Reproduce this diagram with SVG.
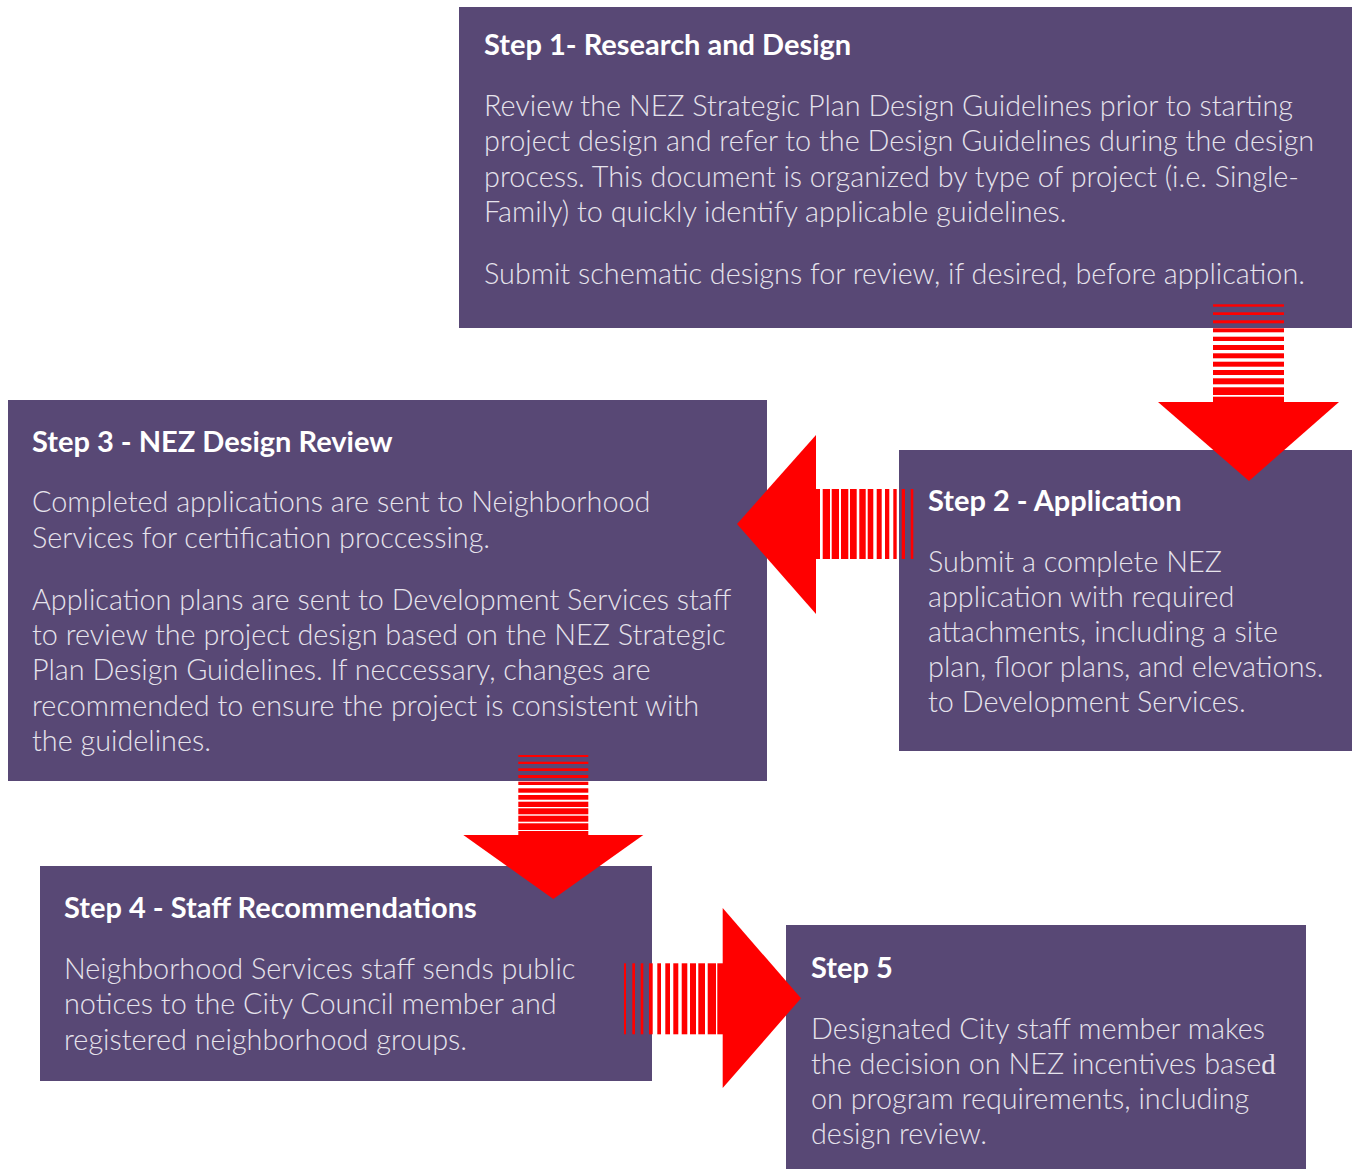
<svg xmlns="http://www.w3.org/2000/svg" width="1354" height="1169" viewBox="0 0 1354 1169">
<style>
.box{fill:#584875}
.h{font-family:Lato,"Liberation Sans",sans-serif;font-weight:700;font-size:29px;fill:#ffffff}
.b{font-family:Lato,"Liberation Sans",sans-serif;font-weight:300;font-size:28.8px;fill:#e6e3ec}
.ar{fill:#ff0000}
</style>
<rect width="1354" height="1169" fill="#ffffff"/>
<g id="step1">
<rect class="box" x="459" y="7" width="893" height="321"/>
<text class="h" x="484" y="55">Step 1- Research and Design</text>
<text class="b" x="484" y="116">Review the NEZ Strategic Plan Design Guidelines prior to starting</text>
<text class="b" x="484" y="151">project design and refer to the Design Guidelines during the design</text>
<text class="b" x="484" y="187">process. This document is organized by type of project (i.e. Single-</text>
<text class="b" x="484" y="222">Family) to quickly identify applicable guidelines.</text>
<text class="b" x="484" y="284">Submit schematic designs for review, if desired, before application.</text>
</g>
<g id="step2">
<rect class="box" x="899" y="450" width="453" height="301"/>
<text class="h" x="928" y="511">Step 2 - Application</text>
<text class="b" x="928" y="572">Submit a complete NEZ</text>
<text class="b" x="928" y="607">application with required</text>
<text class="b" x="928" y="642">attachments, including a site</text>
<text class="b" x="928" y="677">plan, floor plans, and elevations.</text>
<text class="b" x="928" y="712">to Development Services.</text>
</g>
<g id="step3">
<rect class="box" x="8" y="400" width="759" height="381"/>
<text class="h" x="32" y="452">Step 3 - NEZ Design Review</text>
<text class="b" x="32" y="512">Completed applications are sent to Neighborhood</text>
<text class="b" x="32" y="548">Services for certification proccessing.</text>
<text class="b" x="32" y="610">Application plans are sent to Development Services staff</text>
<text class="b" x="32" y="645">to review the project design based on the NEZ Strategic</text>
<text class="b" x="32" y="680">Plan Design Guidelines. If neccessary, changes are</text>
<text class="b" x="32" y="716">recommended to ensure the project is consistent with</text>
<text class="b" x="32" y="751">the guidelines.</text>
</g>
<g id="step4">
<rect class="box" x="40" y="866" width="612" height="215"/>
<text class="h" x="64" y="918">Step 4 - Staff Recommendations</text>
<text class="b" x="64" y="979">Neighborhood Services staff sends public</text>
<text class="b" x="64" y="1014">notices to the City Council member and</text>
<text class="b" x="64" y="1050">registered neighborhood groups.</text>
</g>
<g id="step5">
<rect class="box" x="786" y="925" width="520" height="244"/>
<text class="h" x="811" y="978">Step 5</text>
<text class="b" x="811" y="1039">Designated City staff member makes</text>
<text class="b" x="811" y="1074">the decision on NEZ incentives base<tspan font-family="'Liberation Serif',serif" font-weight="400">d</tspan></text>
<text class="b" x="811" y="1109">on program requirements, including</text>
<text class="b" x="811" y="1144">design review.</text>
</g>
<g id="connectors">
<g id="arrow1-2" class="ar">
<rect x="1213" y="304.3" width="71" height="2.4"/>
<rect x="1213" y="312.3" width="71" height="2.7"/>
<rect x="1213" y="320.3" width="71" height="3"/>
<rect x="1213" y="328.3" width="71" height="4"/>
<rect x="1213" y="336.7" width="71" height="4.3"/>
<rect x="1213" y="345" width="71" height="5"/>
<rect x="1213" y="353.3" width="71" height="5"/>
<rect x="1213" y="361.7" width="71" height="5"/>
<rect x="1213" y="370" width="71" height="5"/>
<rect x="1213" y="378.3" width="71" height="6"/>
<rect x="1213" y="387.3" width="71" height="7.7"/>
<rect x="1213" y="396.7" width="71" height="6"/>
<polygon points="1158,402 1339,402 1249,481"/>
</g>
<g id="arrow2-3" class="ar">
<rect x="910.7" y="489" width="2.6" height="70"/>
<rect x="901.7" y="489" width="3.3" height="70"/>
<rect x="893.3" y="489" width="3.4" height="70"/>
<rect x="885" y="489" width="4.3" height="70"/>
<rect x="876.7" y="489" width="5" height="70"/>
<rect x="867.7" y="489" width="5.6" height="70"/>
<rect x="859.3" y="489" width="6.4" height="70"/>
<rect x="850" y="489" width="6.7" height="70"/>
<rect x="841" y="489" width="7.3" height="70"/>
<rect x="831.7" y="489" width="7.3" height="70"/>
<rect x="822.7" y="489" width="7.3" height="70"/>
<rect x="815" y="489" width="5" height="70"/>
<polygon points="816,435 816,614 737,524"/>
</g>
<g id="arrow3-4" class="ar">
<rect x="518.3" y="755" width="70" height="2"/>
<rect x="518.3" y="761.7" width="70" height="2.3"/>
<rect x="518.3" y="768.3" width="70" height="2.7"/>
<rect x="518.3" y="775" width="70" height="3"/>
<rect x="518.3" y="781.7" width="70" height="3.3"/>
<rect x="518.3" y="788.3" width="70" height="4.4"/>
<rect x="518.3" y="795" width="70" height="4.7"/>
<rect x="518.3" y="801.7" width="70" height="5.3"/>
<rect x="518.3" y="808.3" width="70" height="6"/>
<rect x="518.3" y="815.7" width="70" height="6"/>
<rect x="518.3" y="823.3" width="70" height="6.7"/>
<rect x="518.3" y="831" width="70" height="5"/>
<polygon points="463.3,835 643.3,835 553.3,899"/>
</g>
<g id="arrow4-5" class="ar">
<rect x="624" y="963.3" width="2" height="71"/>
<rect x="632.3" y="963.3" width="2.7" height="71"/>
<rect x="640.7" y="963.3" width="2.6" height="71"/>
<rect x="649" y="963.3" width="3.7" height="71"/>
<rect x="657.3" y="963.3" width="3.7" height="71"/>
<rect x="665.3" y="963.3" width="4.7" height="71"/>
<rect x="673.3" y="963.3" width="5" height="71"/>
<rect x="681.7" y="963.3" width="5.6" height="71"/>
<rect x="690" y="963.3" width="6" height="71"/>
<rect x="698.3" y="963.3" width="6.7" height="71"/>
<rect x="707.7" y="963.3" width="8.3" height="71"/>
<rect x="717.3" y="963.3" width="6.4" height="71"/>
<polygon points="722.7,908 722.7,1088 801,998.3"/>
</g>
</g>
</svg>
